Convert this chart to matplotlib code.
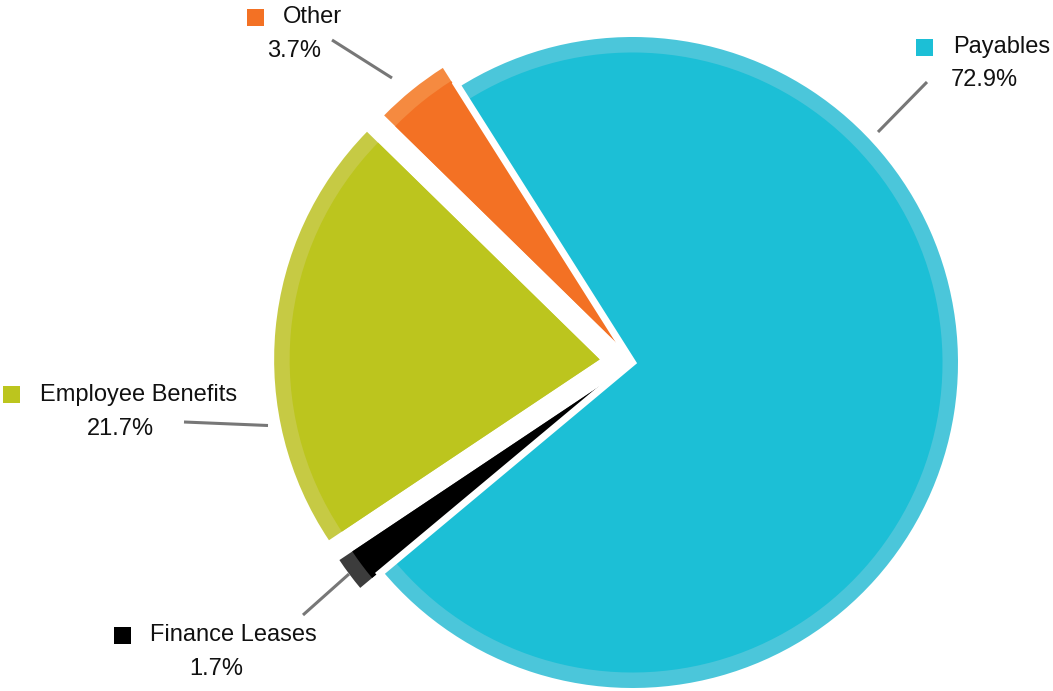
import matplotlib.pyplot as plt

W, H = 1053, 691

labels = ["Payables", "Finance Leases", "Employee Benefits", "Other"]
shares = [72.9, 1.7, 21.7, 3.7]
colors = ["#1cbfd6", "#000000", "#bcc51e", "#f37124"]
rim_colors = ["#4bc6da", "#3c3c3c", "#c6ca44", "#f58a40"]
pct_labels = ["72.9%", "1.7%", "21.7%", "3.7%"]


def flip(y):
    return H - y


def main():
    plt.rcParams["font.family"] = ["Liberation Sans", "DejaVu Sans"]
    fig = plt.figure(figsize=(W / 100, H / 100), dpi=100)
    ax = fig.add_axes([0, 0, 1, 1])

    center = (632.5, flip(362.5))
    explode = [0, 28, 33, 25]
    gap = 7.0  # white outline around the big slice, px
    radius = 325.5
    common = dict(center=center, startangle=122.3, counterclock=False,
                  explode=explode, frame=True)
    # outer lighter rim, then the solid slice, then a white outline on the
    # big slice so the small ones stand apart from it
    rims, _ = ax.pie(shares, colors=rim_colors, radius=radius,
                     wedgeprops=dict(linewidth=0), **common)
    ax.pie(shares, colors=colors, radius=310,
           wedgeprops=dict(linewidth=0), **common)
    outl, _ = ax.pie(shares, radius=radius + gap / 2,
                     wedgeprops=dict(facecolor="none", edgecolor="white",
                                     linewidth=gap * 0.72), **common)
    rims[0].set_radius(radius + gap / 2)
    for w in outl[1:]:
        w.set_visible(False)
    ax.set_xlim(0, W)
    ax.set_ylim(0, H)
    ax.set_aspect("equal")
    ax.axis("off")

    # label blocks: square x, name y, name x, pct center x, pct y
    blocks = [
        (924.5, 47, 953, 984, 80),
        (122, 635, 150.5, 216, 669),
        (11.5, 394.5, 40, 120.5, 429),
        (255.5, 17, 283, 294.5, 51),
    ]
    leaders = [
        ((878, 132), (927, 82)),
        ((303, 615), (349, 574)),
        ((184, 422), (268, 425.5)),
        ((332, 40), (392, 78)),
    ]
    for i, (sx, ny, tx, px, py) in enumerate(blocks):
        ax.add_patch(plt.Rectangle((sx - 8.5, flip(ny) - 8.5), 17, 17,
                                   color=colors[i], lw=0))
        ax.text(tx, flip(ny), labels[i], fontsize=17, va="center",
                ha="left", color="#111111")
        ax.text(px, flip(py), pct_labels[i], fontsize=17, va="center",
                ha="center", color="#111111")
        (x0, y0), (x1, y1) = leaders[i]
        ax.plot([x0, x1], [flip(y0), flip(y1)], color="#777777", lw=2.2,
                solid_capstyle="butt")

    fig.savefig("out.png", dpi=100, facecolor="white")
    plt.close(fig)


if __name__ == "__main__":
    main()
